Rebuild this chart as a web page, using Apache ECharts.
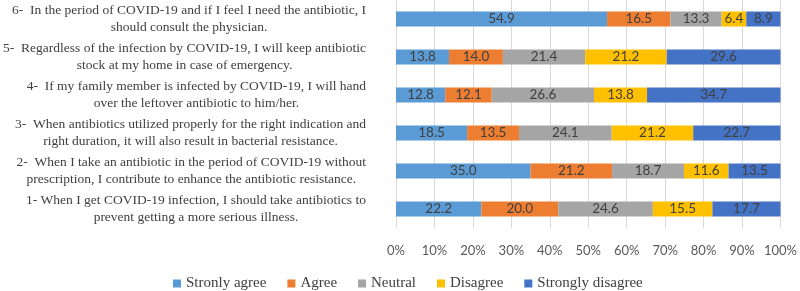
<!DOCTYPE html>
<html>
<head>
<meta charset="utf-8">
<script src="https://cdn.jsdelivr.net/npm/echarts@6/dist/echarts.min.js"></script>
<style>
  html,body{margin:0;padding:0;background:#fff;}
  #chart{width:800px;height:291px;}
</style>
</head>
<body>
<div id="chart"></div>
<script>
// statements, bottom to top (1 at the bottom)
const questions = [
  '1- When I get COVID-19 infection, I should take antibiotics to\nprevent getting a more serious illness.',
  '2-  When I take an antibiotic in the period of COVID-19 without\nprescription, I contribute to enhance the antibiotic resistance.',
  '3-  When antibiotics utilized properly for the right indication and\nright duration, it will also result in bacterial resistance.',
  '4-  If my family member is infected by COVID-19, I will hand\nover the leftover antibiotic to him/her.',
  '5-  Regardless of the infection by COVID-19, I will keep antibiotic\nstock at my home in case of emergency.',
  '6-  In the period of COVID-19 and if I feel I need the antibiotic, I\nshould consult the physician.'
]
const stronglyAgree    = [22.2, 35.0, 18.5, 12.8, 13.8, 54.9]
const agree            = [20.0, 21.2, 13.5, 12.1, 14.0, 16.5]
const neutral          = [24.6, 18.7, 24.1, 26.6, 21.4, 13.3]
const disagree         = [15.5, 11.6, 21.2, 13.8, 21.2, 6.4]
const stronglyDisagree = [17.7, 13.5, 22.7, 34.7, 29.6, 8.9]
const legendNames = ['Stronly agree', 'Agree', 'Neutral', 'Disagree', 'Strongly disagree']
const colors = ['#5B9BD5', '#ED7D31', '#A5A5A5', '#FFC000', '#4472C4']

const chart = echarts.init(document.getElementById('chart'))

const mk = (name, data, color) => ({
  name: name,
  type: 'bar',
  stack: 'all',
  data: data,
  barWidth: 15,
  itemStyle: { color: color },
  label: {
    show: true,
    position: 'inside',
    color: '#404040',
    fontFamily: 'Lato',
    fontSize: 13.5,
    formatter: p => p.value.toFixed(1)
  }
})

chart.setOption({
  animation: false,
  grid: { left: 396, right: 17, top: 0, bottom: 63 },
  legend: {
    top: 276,
    left: 173,
    padding: 0,
    itemWidth: 8,
    itemHeight: 8,
    itemGap: 21,
    icon: 'rect',
    textStyle: { fontFamily: 'Liberation Serif', fontSize: 15, color: '#404040' },
    data: legendNames
  },
  xAxis: {
    type: 'value',
    min: 0,
    max: 100,
    interval: 10,
    axisLine: { show: false },
    axisTick: { show: false },
    splitLine: { lineStyle: { color: '#d9d9d9', width: 1 } },
    axisLabel: {
      margin: 16,
      color: '#595959',
      fontFamily: 'Lato',
      fontSize: 13,
      formatter: v => v + '%'
    }
  },
  yAxis: {
    type: 'category',
    data: questions,
    axisLine: { show: false },
    axisTick: { show: false },
    axisLabel: {
      margin: 30,
      color: '#404040',
      fontFamily: 'Liberation Serif',
      fontSize: 13.5,
      lineHeight: 17,
      formatter: v => v.split('\n').map(s => '{c|' + s + '}').join('\n'),
      rich: {
        c: { align: 'center', fontFamily: 'Liberation Serif', fontSize: 13.5, lineHeight: 17, color: '#404040' }
      }
    }
  },
  series: [
    mk(legendNames[0], stronglyAgree, colors[0]),
    mk(legendNames[1], agree, colors[1]),
    mk(legendNames[2], neutral, colors[2]),
    mk(legendNames[3], disagree, colors[3]),
    mk(legendNames[4], stronglyDisagree, colors[4])
  ]
})
</script>
</body>
</html>
